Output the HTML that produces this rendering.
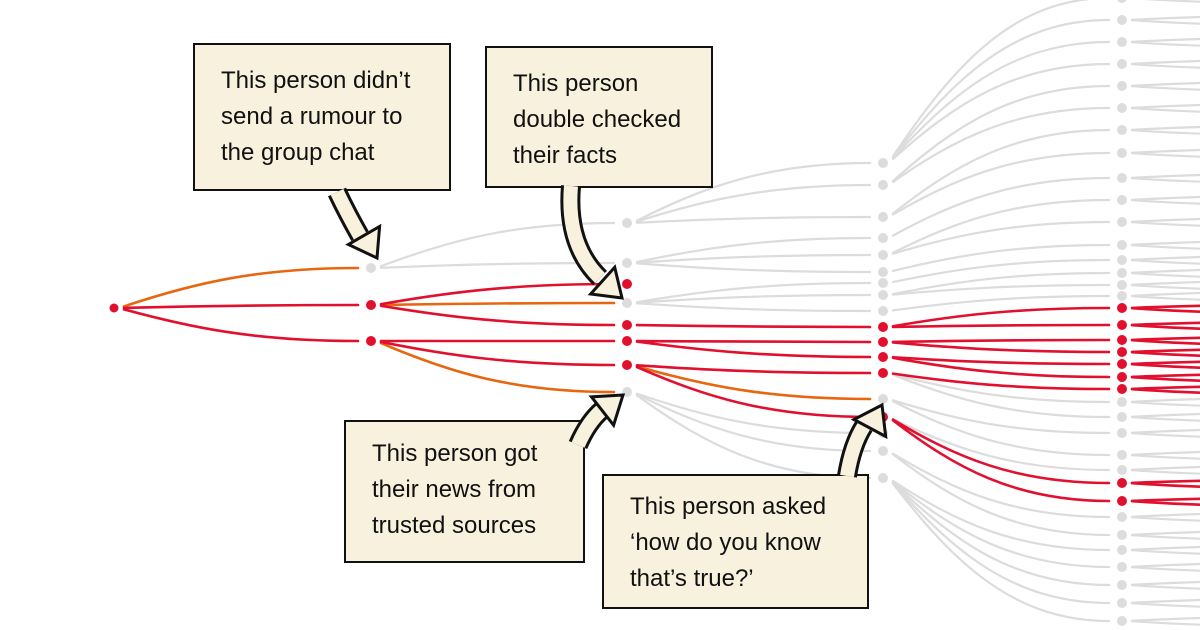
<!DOCTYPE html>
<html><head><meta charset="utf-8">
<style>
html,body{margin:0;padding:0;background:#fff;}
#wrap{position:relative;width:1200px;height:630px;overflow:hidden;background:#fff;}
svg{position:absolute;left:0;top:0;}
.box{position:absolute;background:#f7f1dd;border:2.5px solid #111;box-sizing:border-box;
font-family:"Liberation Sans",sans-serif;font-size:24px;line-height:36px;color:#111;padding:18px 0 0 26px;white-space:nowrap;}
</style></head><body>
<div id="wrap">
<svg id="s" width="1200" height="630" viewBox="0 0 1200 630"></svg>
<div class="box" style="left:193px;top:43px;width:258px;height:148px;">This person didn’t<br>send a rumour to<br>the group chat</div>
<div class="box" style="left:485px;top:46px;width:228px;height:142px;">This person<br>double checked<br>their facts</div>
<div class="box" style="left:344px;top:420px;width:241px;height:143px;padding-top:14px;">This person got<br>their news from<br>trusted sources</div>
<div class="box" style="left:602px;top:474px;width:267px;height:135px;padding-top:13px;">This person asked<br>‘how do you know<br>that’s true?’</div>
<svg id="a" width="1200" height="630" viewBox="0 0 1200 630"></svg>
</div>
<script>
var NS="http://www.w3.org/2000/svg",S=document.getElementById('s');
var RED="#e2102f",OR="#e8660f",GR="#dcdcdc";
function el(p,n,a){var e=document.createElementNS(NS,n);for(var k in a)e.setAttribute(k,a[k]);p.appendChild(e);return e;}
function edge(x0,y0,x1,y1,c){var dx=x1-x0,sx=x0+10,ex=x1-13,dy=y1-y0;
 var w=(c==GR)?2.2:2.6;
 el(S,'path',{d:'M'+sx+' '+(y0+dy*0.04)+' C'+(x0+dx*0.3)+' '+(y0+dy*0.6)+' '+(x0+dx*0.55)+' '+y1+' '+ex+' '+y1,fill:'none',stroke:c,'stroke-width':w,'stroke-linecap':'round'});}
var X=[114,371,627,883,1122];
var C2g=[223,263,303,392], C3g=[163,185,217,238,255,272,283,295,311,399,433,451,478];
var C4r=[308,325,340,352,364,377,389,483,501];
var C4g=[];for(var y=-2;y<150;y+=22)C4g.push(y);
C4g=C4g.concat([153,178,200,222,245,260,273,285,296,402,417,433,455,470,517,535,550,567,585,603,621]);
var E=[[0,308,1,268,OR],[0,308,1,305,RED],[0,308,1,341,RED],
[1,268,2,223,GR],[1,268,2,263,GR],[1,305,2,284,RED],[1,305,2,303,OR],[1,305,2,325,RED],
[1,341,2,341,RED],[1,341,2,365,RED],[1,341,2,392,OR],
[2,325,3,327,RED],[2,341,3,342,RED],[2,341,3,357,RED],[2,365,3,373,RED],[2,365,3,399,OR],[2,365,3,417,RED],
[3,327,4,308,RED],[3,327,4,325,RED],[3,342,4,340,RED],[3,342,4,352,RED],[3,357,4,364,RED],[3,357,4,377,RED],[3,373,4,389,RED],[3,417,4,483,RED],[3,417,4,501,RED]];
var p23={223:[163,185,217],263:[238,255,272],303:[283,295,311],392:[433,451,478]};
for(var p in p23)p23[p].forEach(function(c){E.push([2,+p,3,c,GR]);});
var P3=C3g.concat([327,342,357,373,417]);
C4g.forEach(function(c){var t=330+(c-330)*0.62,best=P3[0];P3.forEach(function(q){if(Math.abs(q-t)<Math.abs(best-t))best=q;});E.push([3,best,4,c,GR]);});
E.sort(function(a,b){var o={};o[GR]=0;o[OR]=1;o[RED]=2;return o[a[4]]-o[b[4]];});
C4g.forEach(function(c){edge(1122,c,1290,c-4,GR);edge(1122,c,1290,c+5,GR);});
E.forEach(function(e){edge(X[e[0]],e[1],X[e[2]],e[3],e[4]);});
C4r.forEach(function(c){edge(1122,c,1290,c-3,RED);edge(1122,c,1290,c+5,RED);});
function dot(x,y,c,r){el(S,'circle',{cx:x,cy:y,r:r,fill:c});}
dot(114,308,RED,4.5);
dot(371,268,GR,5);[305,341].forEach(function(y){dot(371,y,RED,5);});
C2g.forEach(function(y){dot(627,y,GR,5);});[284,325,341,365].forEach(function(y){dot(627,y,RED,5);});
C3g.forEach(function(y){dot(883,y,GR,5);});[327,342,357,373,417].forEach(function(y){dot(883,y,RED,5);});
C4g.forEach(function(y){dot(1122,y,GR,5);});C4r.forEach(function(y){dot(1122,y,RED,5);});
var A=document.getElementById('a');
function arrow(d,tip,ang){
 el(A,'path',{d:d,fill:'none',stroke:'#111','stroke-width':20,'stroke-linecap':'butt'});
 el(A,'path',{d:d,fill:'none',stroke:'#f7f1dd','stroke-width':14,'stroke-linecap':'butt'});
 var g=el(A,'g',{transform:'translate('+tip[0]+' '+tip[1]+') rotate('+ang+')'});
 el(g,'polygon',{points:'0,0 -26,-18 -26,18',fill:'#f7f1dd',stroke:'#111','stroke-width':3,'stroke-linejoin':'miter'});
}
arrow('M337 192 Q348 215 360 236',[377,258],60);
arrow('M571 186 Q566 245 600 278',[622,298],42);
arrow('M578 445 Q588 422 602 410',[623,395],-38);
arrow('M847 476 Q852 445 864 426',[882,405],-62);
</script>
</body></html>
